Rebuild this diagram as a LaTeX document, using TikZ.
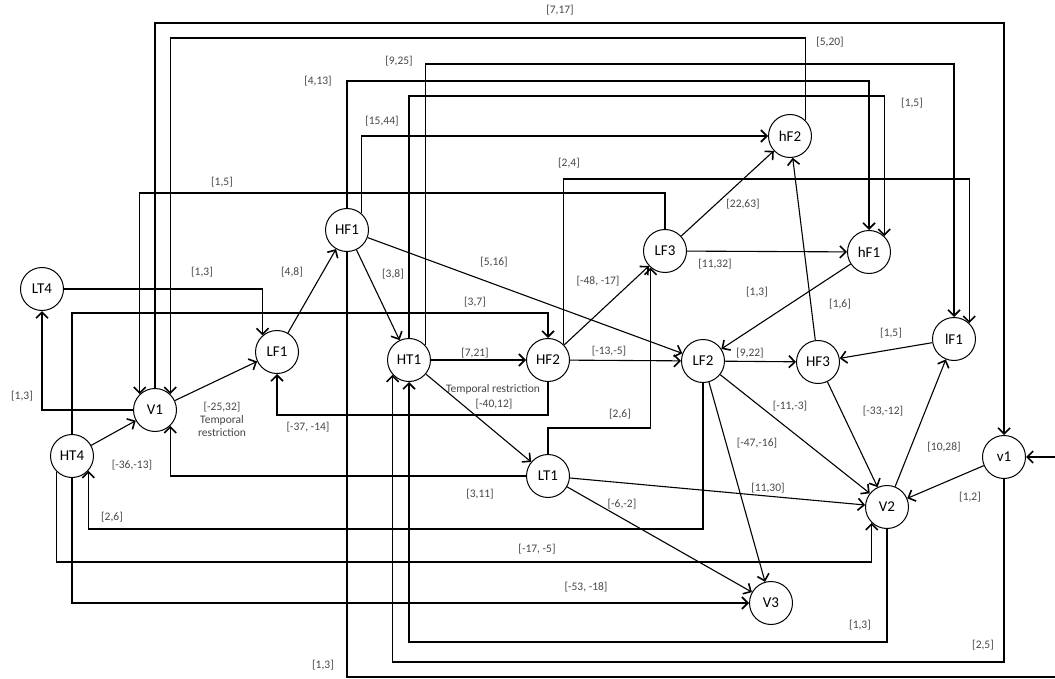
\documentclass[tikz,border=0pt]{standalone}
\usepackage{fontspec}
\setmainfont{Carlito}
\usetikzlibrary{arrows.meta}
\begin{document}
\begin{tikzpicture}[x=1pt,y=-1pt,
  st/.style={circle,draw,line width=1pt,minimum size=43pt,inner sep=0pt,fill=white,font=\fontsize{15}{15}\selectfont},
  arr/.style={line width=1.1pt,-{Straight Barb[length=6pt,width=12pt,line width=1.6pt]}},
  lb/.style={font=\fontsize{11.5}{13}\selectfont,text=black!72,inner sep=1pt,align=center}]
\fill[white] (0,0) rectangle (1055,679);
\useasboundingbox (0,0) rectangle (1055,679);
\clip (0,0) rectangle (1055,679);
% nodes
\node[st] (LT4) at (42,289) {LT4};
\node[st] (V1) at (155,410) {V1};
\node[st] (HT4) at (72,456) {HT4};
\node[st] (LF1) at (277,352) {LF1};
\node[st] (HF1) at (347,230) {HF1};
\node[st] (HT1) at (409,360) {HT1};
\node[st] (HF2) at (548,360) {HF2};
\node[st] (LF3) at (665,251) {LF3};
\node[st] (hF2) at (790,136) {hF2};
\node[st] (hF1) at (869,252) {hF1};
\node[st] (LF2) at (703,361) {LF2};
\node[st] (HF3) at (818,362) {HF3};
\node[st] (lF1) at (954,339) {lF1};
\node[st] (v1) at (1004,457) {v1};
\node[st] (V2) at (887,507) {V2};
\node[st] (V3) at (771,603) {V3};
\node[st] (LT1) at (548,476) {LT1};
% orthogonal connectors
\draw[arr] (V1) -- (V1 |- 0,23) -| (v1);
\draw[arr] (hF2.46) -- (hF2.46 |- 0,38) -- (V1.46 |- 0,38) -- (V1.46);
\draw[arr] (HT1.42) -- (HT1.42 |- 0,64) -| (lF1);
\draw[arr] (HT1) -- (HT1 |- 0,96) -- (hF1.46 |- 0,96) -- (hF1.46);
\draw[arr] (HF1) -- (HF1 |- 0,81) -| (hF1);
\draw[arr] (HF1.49) |- (hF2);
\draw[arr] (HF2.46) -- (HF2.46 |- 0,179) -- (lF1.46 |- 0,179) -- (lF1.46);
\draw[arr] (LF3) -- (LF3 |- 0,193) -- (V1.134 |- 0,193) -- (V1.134);
\draw[arr] (LT4) -- (LF1.131 |- LT4) -- (LF1.131);
\draw[arr] (HT4) -- (HT4 |- 0,313) -| (HF2);
\draw[arr] (V1) -| (LT4);
\draw[arr] (HF2) -- (HF2 |- 0,415) -| (LF1);
\draw[arr] (LT1) -- (LT1 |- 0,428) -- (LF3.229 |- 0,428) -- (LF3.229);
\draw[arr] (LT1) -- (V1.314 |- LT1) -- (V1.314);
\draw[arr] (LF2) -- (LF2 |- 0,529) -- (HT4.318 |- 0,529) -- (HT4.318);
\draw[arr] (HT4.226) -- (HT4.226 |- 0,562) -- (V2.226 |- 0,562) -- (V2.226);
\draw[arr] (HT4) |- (V3);
\draw[arr] (V2) -- (V2 |- 0,642) -| (HT1);
\draw[arr] (v1) -- (v1 |- 0,662) -- (HT1.222 |- 0,662) -- (HT1.222);
\draw[arr] (HF1) -- (HF1 |- 0,677) -- (1075,677) |- (v1);
% straight connectors
\draw[arr] (V1) -- (LF1);
\draw[arr] (HT4) -- (V1);
\draw[arr] (HT1) -- (HF2);
\draw[arr] (HF1) -- (HT1);
\draw[arr] (LF1) -- (HF1);
\draw[arr] (HF1) -- (LF2);
\draw[arr] (HF2) -- (LF3);
\draw[arr] (HF2) -- (LF2);
\draw[arr] (HT1) -- (LT1);
\draw[arr] (LT1) -- (V2);
\draw[arr] (LT1) -- (V3);
\draw[arr] (v1) -- (V2);
\draw[arr] (lF1) -- (HF3);
\draw[arr] (HF3) -- (hF2);
\draw[arr] (hF1) -- (LF2);
\draw[arr] (LF3) -- (hF2);
\draw[arr] (LF3) -- (hF1);
\draw[arr] (LF2) -- (HF3);
\draw[arr] (LF2) -- (V2);
\draw[arr] (LF2) -- (V3);
\draw[arr] (HF3) -- (V2);
\draw[arr] (V2) -- (lF1);
% labels
\node[lb] (a1) at (560,10) {[7,17]};
\node[lb] (a2) at (830,42) {[5,20]};
\node[lb] (a3) at (399,61) {[9,25]};
\node[lb] (a4) at (318,81) {[4,13]};
\node[lb] (a5) at (912,103) {[1,5]};
\node[lb] (a6) at (382,121) {[15,44]};
\node[lb] (a7) at (569,163) {[2,4]};
\node[lb] (a8) at (222,182) {[1,5]};
\node[lb] (a9) at (743,204) {[22,63]};
\node[lb] (a10) at (202,272) {[1,3]};
\node[lb] (a11) at (292,272) {[4,8]};
\node[lb] (a12) at (494,262) {[5,16]};
\node[lb] (a13) at (393,274) {[3,8]};
\node[lb] (a14) at (598,281) {[-48, -17]};
\node[lb] (a15) at (715,264) {[11,32]};
\node[lb] (a16) at (475,302) {[3,7]};
\node[lb] (a17) at (757,292) {[1,3]};
\node[lb] (a18) at (840,304) {[1,6]};
\node[lb] (a19) at (891,333) {[1,5]};
\node[lb] (a20) at (475,353) {[7,21]};
\node[lb] (a21) at (609,351) {[-13,-5]};
\node[lb] (a22) at (750,353) {[9,22]};
\node[lb] (a23) at (22,396) {[1,3]};
\node[lb] (a24) at (222,419) {[-25,32]\\Temporal\\restriction};
\node[lb] (a25) at (308,427) {[-37, -14]};
\node[lb] (a26) at (493,389) {Temporal restriction};
\node[lb] (a27) at (494,404) {[-40,12]};
\node[lb] (a28) at (620,414) {[2,6]};
\node[lb] (a29) at (790,406) {[-11,-3]};
\node[lb] (a30) at (883,411) {[-33,-12]};
\node[lb] (a31) at (132,465) {[-36,-13]};
\node[lb] (a32) at (757,443) {[-47,-16]};
\node[lb] (a33) at (944,447) {[10,28]};
\node[lb] (a34) at (480,494) {[3,11]};
\node[lb] (a35) at (768,488) {[11,30]};
\node[lb] (a36) at (970,497) {[1,2]};
\node[lb] (a37) at (622,504) {[-6,-2]};
\node[lb] (a38) at (112,517) {[2,6]};
\node[lb] (a39) at (537,549) {[-17, -5]};
\node[lb] (a40) at (586,587) {[-53, -18]};
\node[lb] (a41) at (860,625) {[1,3]};
\node[lb] (a42) at (983,645) {[2,5]};
\node[lb] (a43) at (323,665) {[1,3]};
\end{tikzpicture}
\end{document}
